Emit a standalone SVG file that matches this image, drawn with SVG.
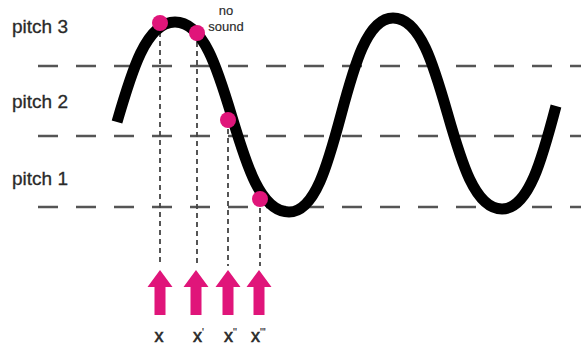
<svg xmlns="http://www.w3.org/2000/svg" width="581" height="349" viewBox="0 0 581 349">
<defs>
<style>
.hd{stroke:#555;stroke-width:2.5;stroke-dasharray:20 18;fill:none}
.vd{stroke:#444;stroke-width:1.8;stroke-dasharray:5 4;fill:none}
.wave{stroke:#000;stroke-width:11;fill:none;stroke-linecap:butt}
.dot{fill:#e0157a}
.arrow{fill:#e0157a}
.lbl{font-family:"Liberation Sans",Arial,sans-serif;fill:#2a2a2a;stroke:#2a2a2a;stroke-width:0.3}
</style>
</defs>
<rect width="581" height="349" fill="#fff"/>
<g id="gridlines">
<line class="hd" x1="38" y1="66" x2="581" y2="66"/>
<line class="hd" x1="38" y1="136" x2="581" y2="136"/>
<line class="hd" x1="38" y1="207" x2="581" y2="207"/>
</g>
<g id="labels">
<text class="lbl" x="12" y="33" font-size="19">pitch 3</text>
<text class="lbl" x="12" y="108" font-size="19">pitch 2</text>
<text class="lbl" x="12" y="185" font-size="19">pitch 1</text>
<text class="lbl" x="226" y="15" font-size="13" text-anchor="middle" style="stroke-width:0.15">no</text>
<text class="lbl" x="226" y="31" font-size="13" text-anchor="middle" style="stroke-width:0.15">sound</text>
</g>
<g id="connectors">
<line class="vd" x1="160" y1="23" x2="160" y2="266"/>
<line class="vd" x1="197" y1="33" x2="197" y2="266"/>
<line class="vd" x1="228" y1="120" x2="228" y2="266"/>
<line class="vd" x1="260" y1="199" x2="260" y2="266"/>
</g>
<g id="wave">
<path class="wave" d="M117 122 C131.5 72 146 22 175 22 C232 22 232 212 289 212 C341 212 341 18 393 18 C447.5 18 447.5 209 502 209 C529 209 542.5 157.5 556 106"/>
</g>
<g id="points">
<circle class="dot" cx="160" cy="23" r="8"/>
<circle class="dot" cx="197" cy="33" r="8"/>
<circle class="dot" cx="228" cy="120" r="8"/>
<circle class="dot" cx="260" cy="199" r="8"/>
</g>
<g id="arrows">
<path id="arrow-x" class="arrow" d="M160 270 L172.5 287 L165.5 287 L165.5 315 L154.5 315 L154.5 287 L147.5 287 Z"/>
<path id="arrow-x1" class="arrow" d="M196 270 L208.5 287 L201.5 287 L201.5 315 L190.5 315 L190.5 287 L183.5 287 Z"/>
<path id="arrow-x2" class="arrow" d="M228 270 L240.5 287 L233.5 287 L233.5 315 L222.5 315 L222.5 287 L215.5 287 Z"/>
<path id="arrow-x3" class="arrow" d="M259 270 L271.5 287 L264.5 287 L264.5 315 L253.5 315 L253.5 287 L246.5 287 Z"/>
</g>
<g id="xlabels">
<text class="lbl" x="159" y="342" font-size="18" text-anchor="middle" style="stroke-width:0.6">x</text>
<text class="lbl" x="193" y="342" font-size="18" style="stroke-width:0.6">x<tspan font-size="10" dy="-6" style="stroke-width:0.2">'</tspan></text>
<text class="lbl" x="224" y="342" font-size="18" style="stroke-width:0.6">x<tspan font-size="10" dy="-6" style="stroke-width:0.2">''</tspan></text>
<text class="lbl" x="251" y="342" font-size="18" style="stroke-width:0.6">x<tspan font-size="10" dy="-6" style="stroke-width:0.2">'''</tspan></text>
</g>
</svg>
